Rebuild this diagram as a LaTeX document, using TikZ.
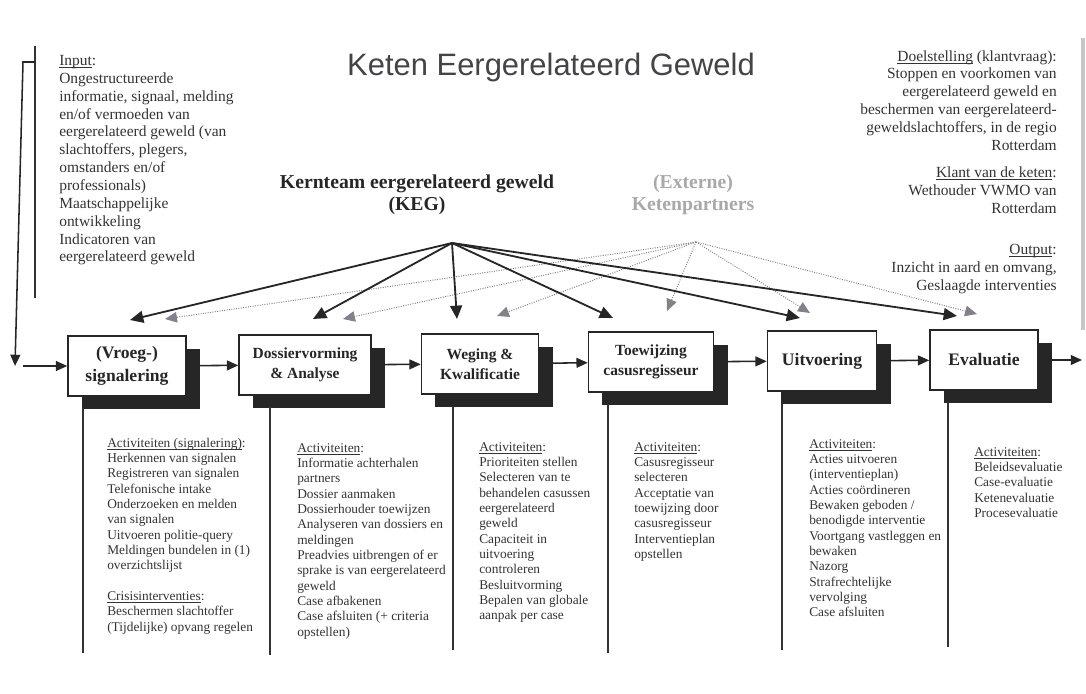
\documentclass[tikz,border=0pt]{standalone}
\usepackage{fontspec}
\setmainfont{Liberation Serif}
\newfontfamily\titlefont{Liberation Sans}
\usetikzlibrary{arrows.meta,shadows}
\definecolor{inkgray}{HTML}{333333}
\definecolor{titlegray}{HTML}{444448}
\definecolor{partnergray}{HTML}{85808A}
\definecolor{partnerlabel}{HTML}{A9A9A9}
\newcommand{\ulword}[1]{\underline{\smash{#1}\vphantom{A}}}
\tikzset{
  stepbox/.style={draw=black!85, line width=1.1pt, fill=white, inner sep=0pt,
    minimum height=1.5cm, align=center, text=black!85,
    drop shadow={shadow xshift=0.35cm, shadow yshift=-0.325cm, opacity=1, fill=black!85}},
  steplabel/.style={font=\fontsize{11}{14}\selectfont\bfseries},
  biglabel/.style={font=\fontsize{12.5}{16}\selectfont\bfseries},
  acttext/.style={anchor=north west, align=left, inner sep=0pt, text=inkgray,
    font=\fontsize{9.5}{10.9}\selectfont},
  sidetext/.style={inner sep=0pt, text=inkgray, font=\fontsize{11}{12.7}\selectfont},
  kegarrow/.style={draw=black!85, line width=1.3pt, -{Triangle[length=9.5pt,width=8.5pt]}},
  partnerarrow/.style={draw=partnergray, line width=0.7pt, densely dotted,
    -{Triangle[length=8.5pt,width=7.5pt]}},
  flowarrow/.style={draw=black!85, line width=1.1pt, -{Triangle[length=8pt,width=7pt]}},
  divider/.style={draw=black!80, line width=0.9pt}
}
\begin{document}
\begin{tikzpicture}[x=0.025cm, y=-0.025cm]
  \useasboundingbox (0,0) rectangle (1086,694);

  % title and side texts
  \node[font=\titlefont\fontsize{22}{26}\selectfont, text=titlegray] (title) at (551,68) {Keten Eergerelateerd Geweld};
  \node[sidetext, anchor=north west, align=left] (input) at (59,55) {\ulword{Input}:\\Ongestructureerde\\informatie, signaal, melding\\en/of vermoeden van\\eergerelateerd geweld (van\\slachtoffers, plegers,\\omstanders en/of\\professionals)\\Maatschappelijke\\ontwikkeling\\Indicatoren van\\eergerelateerd geweld};
  \node[sidetext, anchor=north east, align=right] (goal) at (1057,50) {\ulword{Doelstelling} (klantvraag):\\Stoppen en voorkomen van\\eergerelateerd geweld en\\beschermen van eergerelateerd-\\geweldslachtoffers, in de regio\\Rotterdam};
  \node[sidetext, anchor=north east, align=right] (client) at (1057,167) {\ulword{Klant van de keten}:\\Wethouder VWMO van\\Rotterdam};
  \node[sidetext, anchor=north east, align=right] (output) at (1057,244) {\ulword{Output}:\\Inzicht in aard en omvang,\\Geslaagde interventies};
  \draw[line width=3pt, draw=gray!45] (1083,38) -- (1083,330);

  % teams
  \node[font=\fontsize{14}{15.6}\selectfont\bfseries, align=center, text=black!85] (keg) at (417,195) {Kernteam eergerelateerd geweld\\(KEG)};
  \node[font=\fontsize{14}{15.6}\selectfont\bfseries, align=center, text=partnerlabel] (partners) at (693,195) {(Externe)\\Ketenpartners};
  \coordinate (kegsrc) at (452,243);
  \coordinate (extsrc) at (696,242);

  % chain steps
  \node[stepbox, biglabel, minimum width=2.95cm] (signal) at (127,366) {(Vroeg-)\\signalering};
  \node[stepbox, steplabel, minimum width=3.3cm] (dossier) at (305,365) {Dossiervorming\\\& Analyse};
  \node[stepbox, steplabel, minimum width=2.925cm] (weging) at (480,364) {Weging \&\\Kwalificatie};
  \node[stepbox, steplabel, minimum width=3.125cm] (toewijzing) at (651,362) {Toewijzing\\casusregisseur};
  \node[stepbox, biglabel, minimum width=2.725cm] (uitvoering) at (822,361) {Uitvoering};
  \node[stepbox, biglabel, minimum width=2.7cm] (evaluatie) at (984,360) {Evaluatie};

  % arrows from the teams
  \coordinate (k1) at (130,320);
  \coordinate (k2) at (313,319);
  \coordinate (k3) at (457,319);
  \coordinate (k4) at (613,318);
  \coordinate (k5) at (800,318);
  \coordinate (k6) at (957,316);
  \coordinate (p1) at (165,319);
  \coordinate (p2) at (343,319);
  \coordinate (p3) at (497,316);
  \coordinate (p4) at (667,311);
  \coordinate (p5) at (810,313);
  \coordinate (p6) at (977,314);
  \foreach \i in {1,...,6}
    \draw[partnerarrow] (extsrc) -- (p\i);
  \foreach \i in {1,...,6}
    \draw[kegarrow] (kegsrc) -- (k\i);

  % flow through the chain
  \draw[divider] (35,46) -- (35,298);
  \coordinate (feedtop) at (35,62);
  \coordinate (feedbend) at (23,62);
  \coordinate (feedend) at (15,366);
  \coordinate (feedin) at (23,366);
  \coordinate (chainout) at (1082,360);
  \draw[flowarrow] (feedtop) -- (feedbend) -- (feedend);
  \draw[flowarrow] (feedin) -- (signal);
  \draw[flowarrow] (signal) -- (dossier);
  \draw[flowarrow] (dossier) -- (weging);
  \draw[flowarrow] (weging) -- (toewijzing);
  \draw[flowarrow] (toewijzing) -- (uitvoering);
  \draw[flowarrow] (uitvoering) -- (evaluatie);
  \draw[flowarrow] (evaluatie) -- (chainout);

  % activity columns
  \foreach \x/\y/\z in {83/408/653, 270/407/655, 453/406/650, 608/404/653, 782/403/650, 948/402/647}
    \draw[divider] (\x,\y) -- (\x,\z);
  \node[acttext] (act1) at (107,438) {\ulword{Activiteiten (signalering)}:\\Herkennen van signalen\\Registreren van signalen\\Telefonische intake\\Onderzoeken en melden\\van signalen\\Uitvoeren politie-query\\Meldingen bundelen in (1)\\overzichtslijst\\[10.9pt]\ulword{Crisisinterventies}:\\Beschermen slachtoffer\\(Tijdelijke) opvang regelen};
  \node[acttext] (act2) at (297,443) {\ulword{Activiteiten}:\\Informatie achterhalen\\partners\\Dossier aanmaken\\Dossierhouder toewijzen\\Analyseren van dossiers en\\meldingen\\Preadvies uitbrengen of er\\sprake is van eergerelateerd\\geweld\\Case afbakenen\\Case afsluiten (+ criteria\\opstellen)};
  \node[acttext] (act3) at (479,442) {\ulword{Activiteiten}:\\Prioriteiten stellen\\Selecteren van te\\behandelen casussen\\eergerelateerd\\geweld\\Capaciteit in\\uitvoering\\controleren\\Besluitvorming\\Bepalen van globale\\aanpak per case};
  \node[acttext] (act4) at (634,442) {\ulword{Activiteiten}:\\Casusregisseur\\selecteren\\Acceptatie van\\toewijzing door\\casusregisseur\\Interventieplan\\opstellen};
  \node[acttext] (act5) at (809,439) {\ulword{Activiteiten}:\\Acties uitvoeren\\(interventieplan)\\Acties coördineren\\Bewaken geboden /\\benodigde interventie\\Voortgang vastleggen en\\bewaken\\Nazorg\\Strafrechtelijke\\vervolging\\Case afsluiten};
  \node[acttext] (act6) at (974,447) {\ulword{Activiteiten}:\\Beleidsevaluatie\\Case-evaluatie\\Ketenevaluatie\\Procesevaluatie};
\end{tikzpicture}
\end{document}
